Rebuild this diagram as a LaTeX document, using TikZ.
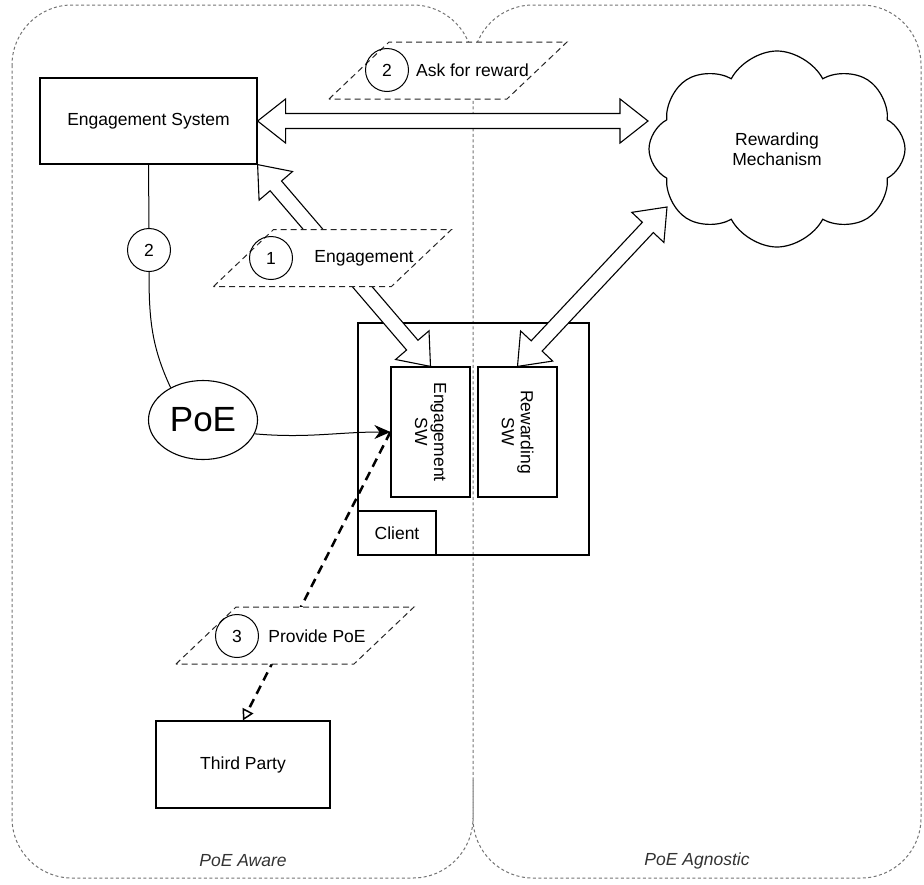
\documentclass[tikz,border=0pt]{standalone}
\usepackage{fontspec}
\setmainfont{Liberation Sans}
\usetikzlibrary{calc,arrows.meta,shapes.geometric,shapes.symbols}

\tikzset{
    box/.style={draw, line width=1.2pt, fill=white, inner sep=0pt},
    tag/.style={draw=black!85, dash pattern=on 6pt off 4pt, line width=1pt,
        fill=white, trapezium, trapezium left angle=63, trapezium right angle=117,
        trapezium stretches=true, minimum width=238pt, minimum height=57pt},
    num/.style={draw, circle, line width=1pt, minimum size=43pt, inner sep=0pt},
    region/.style={draw=black!55, dash pattern=on 3pt off 2.5pt, line width=1pt,
        rounded corners=60pt},
    flexarrow/.style={draw, line width=1.1pt, fill=white, to path={
        -- ($(\tikztostart)!35.6pt!38.2:(\tikztotarget)$)
        -- ($(\tikztostart)!29pt!15:(\tikztotarget)$)
        -- ($(\tikztotarget)!29pt!-15:(\tikztostart)$)
        -- ($(\tikztotarget)!35.6pt!-38.2:(\tikztostart)$)
        -- (\tikztotarget)
        -- ($(\tikztotarget)!35.6pt!38.2:(\tikztostart)$)
        -- ($(\tikztotarget)!29pt!15:(\tikztostart)$)
        -- ($(\tikztostart)!29pt!-15:(\tikztotarget)$)
        -- ($(\tikztostart)!35.6pt!-38.2:(\tikztotarget)$)
        -- cycle}}
}

\begin{document}
\begin{tikzpicture}[x=1pt, y=-1pt, font=\fontsize{17.5}{20}\selectfont]
        \useasboundingbox (0,0) rectangle (924,884);
        % the two areas (they share the middle edge)
        \draw [region] (12,5) rectangle (473,878);
        \draw [region] (473,780) -- (473,878) -- (921,878) -- (921,5) -- (473,5)
            -- (473,100);
        \node [text=black!80] (aware) at (243,861) {\textit{PoE Aware}};
        \node [text=black!80] (agnostic) at (697,861) {\textit{PoE Agnostic}};

        \node [box, minimum width=217pt, minimum height=86pt] (es) at (148.5,121)
            {Engagement System};
        \node [draw, line width=1.2pt, cloud, cloud puffs=8, cloud puff arc=125,
            aspect=1.3, minimum width=256pt, minimum height=196pt, inner sep=0pt,
            align=center] (rm) at (777,149) {Rewarding\\Mechanism};
        \coordinate (rmw) at (648,121);
        \coordinate (rmsw) at (667,207);

        \node [draw, line width=1.2pt, minimum width=231pt, minimum height=232pt]
            (client) at (473.5,439) {};
        \node [box, minimum width=79pt, minimum height=130pt] (engsw) at (430.5,432) {};
        \node [rotate=-90, align=center, font=\fontsize{17.5}{19}\selectfont]
            at (engsw.center) {Engagement\\SW};
        \node [box, minimum width=79pt, minimum height=130pt] (rwsw) at (517.5,432) {};
        \node [rotate=-90, align=center, font=\fontsize{17.5}{19}\selectfont]
            at (rwsw.center) {Rewarding\\SW};
        \node [box, minimum width=78pt, minimum height=44pt] (cl) at (397,533) {Client};

        \node [draw, line width=1.1pt, ellipse, minimum width=109pt, minimum height=79pt,
            inner sep=0pt, font=\fontsize{35}{40}\selectfont] (poe) at (203,420) {PoE};
        \node [box, minimum width=174pt, minimum height=87pt] (tp) at (243,764.5)
            {Third Party};
        \node [num, fill=white] (n2) at (149,250) {2};

        % wide arrows
        \path [flexarrow] (es.east) to (rmw);
        \path [flexarrow] (es.south east) to (engsw.north);
        \path [flexarrow] (rwsw.north) to (rmsw);

        % thin links
        \draw [line width=1pt] (es.south) -- (n2.north);
        \draw [line width=1pt] (n2.south) to[out=-90, in=115] (poe.135);
        \draw [line width=2.5pt, dash pattern=on 9pt off 6pt,
            -{Triangle[open, length=11pt, width=12pt, line width=1.5pt]}]
            (engsw.west) -- (tp.north);
        \draw [line width=1pt, -{Stealth[length=16pt, width=14pt]}]
            (poe.-15) to[out=-5, in=180] (engsw.west);

        % steps
        \node [tag] (ask) at (448,70.5) {};
        \node [num] (s2) at (387,70) {2};
        \node (asktext) at (472.5,70) {Ask for reward};
        \node [tag] (eng) at (332.5,258) {};
        \node [num] (s1) at (271,258) {1};
        \node (engtext) at (364,258) {Engagement};
        \node [tag] (prov) at (295,635.5) {};
        \node [num] (s3) at (237,636) {3};
        \node (provtext) at (317,636) {Provide PoE};
    \end{tikzpicture}
\end{document}
